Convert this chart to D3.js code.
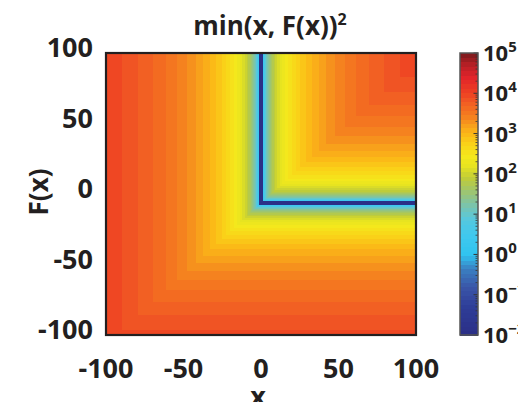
<!DOCTYPE html>
<html>
<head>
<meta charset="utf-8">
<script src="https://cdn.jsdelivr.net/npm/d3@7"></script>
<style>
  body { margin: 0; background: #fff; }
  svg { display: block; }
  text { font-family: "Open Sans", sans-serif; font-weight: bold; fill: #231f20; }
</style>
</head>
<body>
<div id="graphic"></div>
<script>
// axis ticks
var xTicks = [-100, -50, 0, 50, 100];
var fTicks = [-100, -50, 0, 50, 100];
var cbarExps = [-2, -1, 0, 1, 2, 3, 4, 5];

// colour map (log10 value -> colour)
var cmapLogs = [-2.0, -1.3, -0.8, -0.35, 0.0, 0.5, 0.9, 1.2, 1.5, 1.9, 2.2, 2.45, 2.75, 3.0, 3.2, 3.4, 3.6, 3.8, 4.0, 4.4, 4.7, 5.0];
var cmapColors = ["#2b2f86", "#2e3d98", "#3a56a8", "#3a80c2", "#30c4f0", "#40c8ee", "#58c8dc", "#78c4b0", "#96c47c", "#c0cc38", "#e6e420",
                  "#f5e81c", "#fad218", "#fbb817", "#f8a01b", "#f5841f", "#f36e21", "#f15a24", "#ee4223", "#e2242a", "#b81f26", "#7a1a1c"];

// data grid: x and F sampled on a regular grid, value = min(x, F)^2
var gridStep = 1.5;
var fZero = -6.5;      // where the F = 0 row lands on the drawn axis
var nLevels = 64;
var logMin = -2, logMax = 5;

var graphic = {};

graphic.create = function() {
  var W = 518, H = 402;
  var left = 106, right = 416, top = 53, bottom = 335;
  var cbLeft = 460, cbRight = 478;

  var svg = d3.select("#graphic").append("svg").attr("width", W).attr("height", H);

  var x = d3.scaleLinear().domain([-100, 100]).range([left, right]);
  var y = d3.scaleLinear().domain([-100, 100]).range([bottom, top]);
  var c = d3.scaleLinear().domain([logMin, logMax]).range([bottom, top]);
  var cmap = d3.scaleLinear().domain(cmapLogs).range(cmapColors).clamp(true);

  var levelColor = function(i) {
    return cmap(logMin + (i + 0.5) * (logMax - logMin) / nLevels);
  };

  // colour level of m = min(x, F): log10(m^2) interpolated between grid vertices
  var level = function(m) {
    var a = Math.abs(m);
    if (a < gridStep) return 0;
    var k = Math.floor(a / gridStep) * gridStep;
    var t = (a - k) / gridStep;
    var v0 = 2 * Math.log10(k), v1 = 2 * Math.log10(k + gridStep);
    var v = v0 + t * (v1 - v0);
    var i = Math.floor((v - logMin) / (logMax - logMin) * nLevels);
    return Math.max(0, Math.min(nLevels - 1, i));
  };

  // runs of constant level along m
  var segs = [];
  var step = 0.02;
  for (var m = -100; m <= 100 + 1e-9; m += step) {
    var lv = level(m + step / 2);
    if (!segs.length || segs[segs.length - 1].lv !== lv) segs.push({ t: m, lv: lv });
  }

  var clip = svg.append("clipPath").attr("id", "plotclip");
  clip.append("rect").attr("x", left).attr("y", top).attr("width", right - left).attr("height", bottom - top);

  // each level paints the quadrant where min(x, F) >= its start
  svg.append("g").attr("clip-path", "url(#plotclip)")
    .selectAll("rect").data(segs).enter().append("rect")
    .attr("x", function(d) { return d.t <= -100 ? left : x(d.t); })
    .attr("y", top)
    .attr("width", function(d) { return right - (d.t <= -100 ? left : x(d.t)); })
    .attr("height", function(d) { return (d.t <= -100 ? bottom : Math.min(bottom, y(d.t + fZero))) - top; })
    .attr("fill", function(d) { return levelColor(d.lv); })
    .attr("shape-rendering", "crispEdges");

  svg.append("rect").attr("x", left).attr("y", top).attr("width", right - left).attr("height", bottom - top)
    .attr("fill", "none").attr("stroke", "#231f20").attr("stroke-width", 2.2);

  // tick labels
  svg.append("g").selectAll("text").data(xTicks).enter().append("text")
    .attr("x", function(d) { return x(d); }).attr("y", 378)
    .attr("text-anchor", "middle").attr("font-size", 27)
    .text(function(d) { return d; });

  svg.append("g").selectAll("text").data(fTicks).enter().append("text")
    .attr("x", 93).attr("y", function(d) { return y(d) + 4; })
    .attr("text-anchor", "end").attr("font-size", 27)
    .text(function(d) { return d; });

  svg.append("text").attr("x", 258).attr("y", 406).attr("text-anchor", "middle").attr("font-size", 27).text("x");
  svg.append("text").attr("transform", "translate(48,192) rotate(-90)").attr("text-anchor", "middle")
    .attr("font-size", 26).text("F(x)");

  var title = svg.append("text").attr("x", 270).attr("y", 35).attr("text-anchor", "middle").attr("font-size", 26);
  title.append("tspan").text("min(x, F(x))");
  title.append("tspan").attr("font-size", 16).attr("dy", -10).text("2");

  // colour bar
  var bands = d3.range(nLevels);
  svg.append("g").selectAll("rect").data(bands).enter().append("rect")
    .attr("x", cbLeft).attr("width", cbRight - cbLeft)
    .attr("y", function(i) { return c(logMin + (i + 1) * (logMax - logMin) / nLevels); })
    .attr("height", function(i) { return c(logMin + i * (logMax - logMin) / nLevels) - c(logMin + (i + 1) * (logMax - logMin) / nLevels) + 0.5; })
    .attr("fill", levelColor)
    .attr("shape-rendering", "crispEdges");

  var minor = [];
  cbarExps.slice(0, -1).forEach(function(e) {
    for (var k = 2; k < 10; k++) minor.push(e + Math.log10(k));
  });
  svg.append("g").selectAll("line").data(minor).enter().append("line")
    .attr("x1", cbRight - 2.5).attr("x2", cbRight)
    .attr("y1", c).attr("y2", c)
    .attr("stroke", "#333").attr("stroke-width", 0.8);
  svg.append("g").selectAll("line").data(cbarExps).enter().append("line")
    .attr("x1", cbRight - 4.5).attr("x2", cbRight)
    .attr("y1", c).attr("y2", c)
    .attr("stroke", "#333").attr("stroke-width", 1);

  svg.append("rect").attr("x", cbLeft).attr("y", top).attr("width", cbRight - cbLeft).attr("height", bottom - top)
    .attr("fill", "none").attr("stroke", "#555").attr("stroke-width", 1.5);

  var cl = svg.append("g").selectAll("text").data(cbarExps).enter().append("text")
    .attr("x", 483).attr("y", function(d) { return c(d) + 8; })
    .attr("font-size", 22);
  cl.append("tspan").text("10");
  cl.append("tspan").attr("font-size", 15).attr("dy", -9).text(function(d) { return d < 0 ? "\u2212" + (-d) : d; });
};

graphic.create();
</script>
</body>
</html>
